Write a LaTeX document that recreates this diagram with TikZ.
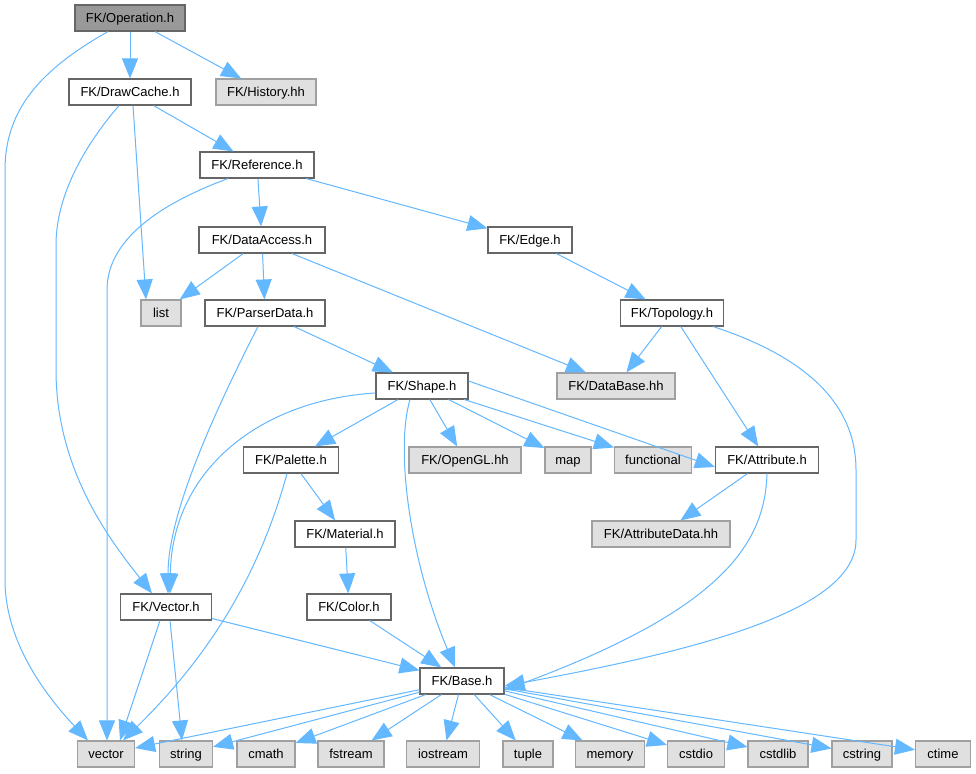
\documentclass[tikz,border=0pt]{standalone}
\usepackage{fontspec}
\setmainfont{Liberation Sans}
\usetikzlibrary{arrows.meta}
\definecolor{edgeblue}{HTML}{63B8FF}
\definecolor{boxborder}{HTML}{666666}
\definecolor{extborder}{HTML}{A0A0A0}
\definecolor{extfill}{HTML}{E0E0E0}
\definecolor{rootfill}{HTML}{999999}
\tikzset{
  basebox/.style={line width=1.1pt, minimum height=26pt, inner sep=0pt, text height=9.4pt, text depth=0pt, font=\fontsize{13}{15}\selectfont, text=black},
  hbox/.style={basebox, draw=boxborder, fill=white},
  extbox/.style={basebox, draw=extborder, fill=extfill},
  rootbox/.style={basebox, draw=boxborder, fill=rootfill},
  tipshape/.tip={Triangle[length=20pt, width=16pt]},
  dep/.style={draw=edgeblue, line width=1pt, -tipshape},
}
\begin{document}
\begin{tikzpicture}[x=1pt,y=-1pt]
\useasboundingbox (0,0) rectangle (976,773);
\fill[white] (0,0) rectangle (976,773);
% nodes
\node[rootbox, minimum width=110pt] (op) at (130,18) {FK/Operation.h};
\node[hbox, minimum width=122pt] (dc) at (130,92) {FK/DrawCache.h};
\node[extbox, minimum width=100pt] (hist) at (266,92) {FK/History.hh};
\node[hbox, minimum width=114pt] (ref) at (257,165) {FK/Reference.h};
\node[hbox, minimum width=126pt] (da) at (262,240) {FK/DataAccess.h};
\node[hbox, minimum width=84pt] (edge) at (530,240) {FK/Edge.h};
\node[extbox, minimum width=40pt] (list) at (161,313) {list};
\node[hbox, minimum width=120pt] (pd) at (265,313) {FK/ParserData.h};
\node[hbox, minimum width=103pt] (topo) at (672,313) {FK/Topology.h};
\node[extbox, minimum width=118pt] (db) at (616,386) {FK/DataBase.hh};
\node[hbox, minimum width=92pt] (shape) at (422,386) {FK/Shape.h};
\node[hbox, minimum width=95pt] (pal) at (291,460) {FK/Palette.h};
\node[extbox, minimum width=112pt] (gl) at (465,460) {FK/OpenGL.hh};
\node[extbox, minimum width=46pt] (map) at (568,460) {map};
\node[extbox, minimum width=77pt] (func) at (653,460) {functional};
\node[hbox, minimum width=103pt] (attr) at (767,460) {FK/Attribute.h};
\node[hbox, minimum width=100pt] (mat) at (345,534) {FK/Material.h};
\node[extbox, minimum width=138pt] (ad) at (661,534) {FK/AttributeData.hh};
\node[hbox, minimum width=91pt] (vec) at (166,607) {FK/Vector.h};
\node[hbox, minimum width=84pt] (col) at (349,607) {FK/Color.h};
\node[hbox, minimum width=84pt] (base) at (462,681) {FK/Base.h};
\node[extbox, minimum width=57pt] (vector) at (106,754) {vector};
\node[extbox, minimum width=53pt] (string) at (186,754) {string};
\node[extbox, minimum width=58pt] (cmath) at (266,754) {cmath};
\node[extbox, minimum width=66pt] (fstream) at (351,754) {fstream};
\node[extbox, minimum width=73pt] (iostream) at (443,754) {iostream};
\node[extbox, minimum width=50pt] (tuple) at (528,754) {tuple};
\node[extbox, minimum width=69pt] (memory) at (610,754) {memory};
\node[extbox, minimum width=57pt] (cstdio) at (696,754) {cstdio};
\node[extbox, minimum width=60pt] (cstdlib) at (778,754) {cstdlib};
\node[extbox, minimum width=60pt] (cstring) at (862,754) {cstring};
\node[extbox, minimum width=55pt] (ctime) at (943,754) {ctime};
% edges
\draw[dep] ([xshift=-22pt]op.south) .. controls (40,70) and (5,110) .. (5,170) -- (5,580) .. controls (5,645) and (50,700) .. ([xshift=-18pt]vector.north);
\draw[dep] (op) -- (dc);
\draw[dep] (op) -- (hist);
\draw[dep] ([xshift=3pt]dc.south) -- ([xshift=-15pt]list.north);
\draw[dep] (dc) -- (ref);
\draw[dep] ([xshift=-11pt]dc.south) .. controls (85,145) and (56,195) .. (56,245) -- (56,370) .. controls (56,470) and (110,540) .. ([xshift=-14pt]vec.north);
\draw[dep] ([xshift=-29pt]ref.south) .. controls (170,200) and (107,235) .. (107,290) -- ([xshift=1pt]vector.north);
\draw[dep] (ref) -- (da);
\draw[dep] (ref) -- (edge);
\draw[dep] (da) -- (list);
\draw[dep] (da) -- (pd);
\draw[dep] ([xshift=30pt]da.south) -- ([xshift=-30pt]db.north);
\draw[dep] (edge) -- (topo);
\draw[dep] (pd) -- (shape);
\draw[dep] ([xshift=-7pt]pd.south) .. controls (205,430) and (168,520) .. ([xshift=2pt]vec.north);
\draw[dep] (topo) -- (db);
\draw[dep] (topo) -- (attr);
\draw[dep] ([xshift=41pt]topo.south) .. controls (800,355) and (856,400) .. (856,470) -- (856,540) .. controls (856,610) and (700,650) .. ([yshift=-5pt]base.east);
\draw[dep] ([yshift=-7pt]shape.west) .. controls (260,400) and (172,470) .. ([xshift=4pt]vec.north);
\draw[dep] (shape) -- (pal);
\draw[dep] (shape) -- (gl);
\draw[dep] (shape) -- (map);
\draw[dep] (shape) -- (func);
\draw[dep] ([yshift=5pt]shape.east) -- ([yshift=-7pt]attr.west);
\draw[dep] ([xshift=-12pt]shape.south) .. controls (395,450) and (410,560) .. ([xshift=-7pt]base.north);
\draw[dep] (attr) -- (ad);
\draw[dep] (attr.south) .. controls (765,545) and (720,610) .. ([yshift=-9pt]base.east);
\draw[dep] (pal) -- (mat);
\draw[dep] ([xshift=-4pt]pal.south) .. controls (258,580) and (205,660) .. ([xshift=17pt]vector.north);
\draw[dep] (mat) -- (col);
\draw[dep] (col) -- (base);
\draw[dep] ([xshift=-6pt]vec.south) -- ([xshift=14pt]vector.north);
\draw[dep] ([xshift=4pt]vec.south) -- ([xshift=-4pt]string.north);
\draw[dep] (vec) -- (base);
\foreach \t in {vector,string,cmath,fstream,iostream,tuple,memory,cstdio,cstdlib,cstring,ctime}
  \draw[dep] (base) -- (\t);
\end{tikzpicture}
\end{document}
